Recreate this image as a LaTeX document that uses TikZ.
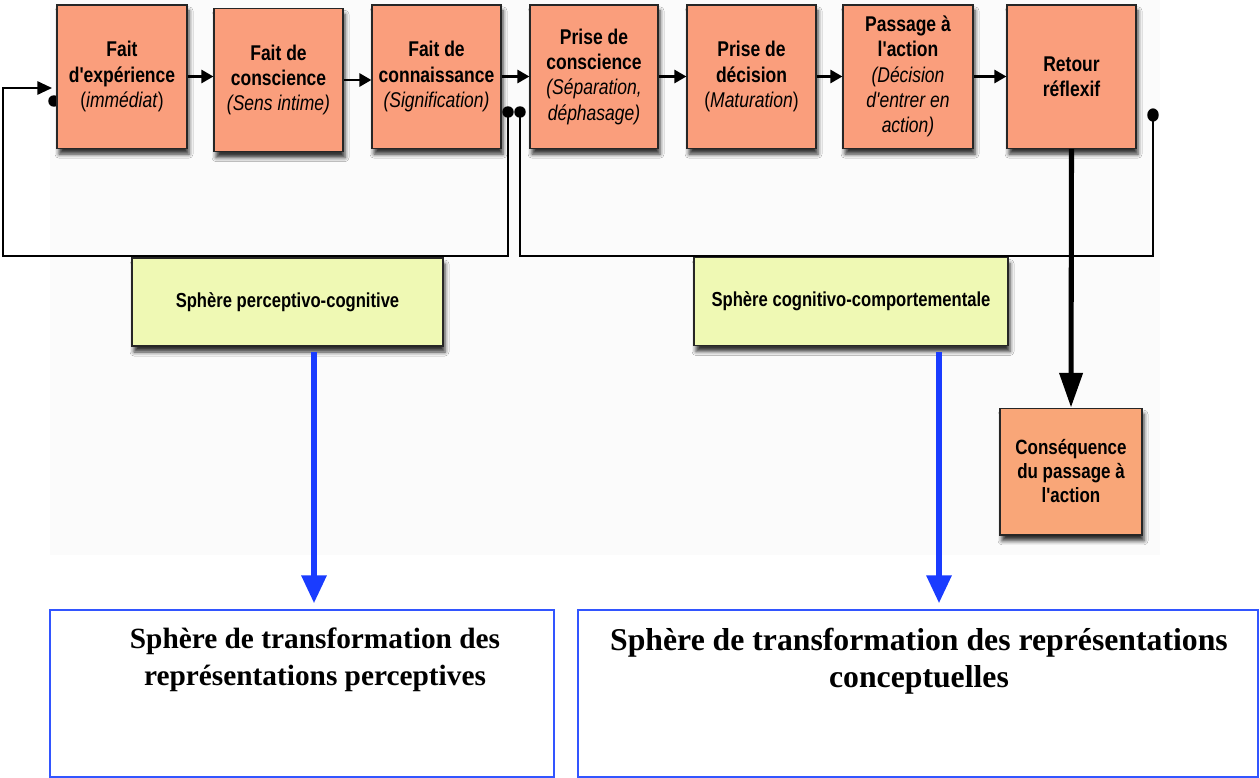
\documentclass[tikz,border=0pt]{standalone}
\usepackage{fontspec}
\setmainfont{Liberation Serif}
\newfontfamily\nar[FakeStretch=0.82]{Liberation Sans}
\usetikzlibrary{arrows.meta,shadows.blur,calc}
\definecolor{salmon}{RGB}{250,158,124}
\definecolor{consq}{RGB}{249,166,120}
\definecolor{paleyel}{RGB}{239,249,180}
\definecolor{arrblue}{RGB}{26,60,255}
\definecolor{boxblue}{RGB}{50,85,255}
\definecolor{bgray}{RGB}{251,251,251}
\newcommand\subt[1]{{\mdseries\itshape #1}}
\tikzset{
  shad/.style={blur shadow={shadow xshift=1.5pt,shadow yshift=-4.5pt,shadow blur radius=3pt,shadow opacity=80}},
  stepbox/.style={shad,draw=black!85,line width=1pt,fill=salmon,align=center,inner sep=0pt,
    minimum width=#1,minimum height=107.5pt,
    font={\nar\fontsize{16pt}{19pt}\selectfont\bfseries}},
  sphbox/.style={shad,draw=black!85,line width=1pt,fill=paleyel,align=center,inner sep=0pt,
    minimum height=66pt,font={\nar\fontsize{15.2pt}{18pt}\selectfont\bfseries}},
  bluebox/.style={draw=boxblue,line width=1.2pt,inner sep=0pt,minimum height=125pt},
  bigtxt/.style={align=center,inner sep=0pt},
  flow/.style={line width=1.6pt,-{Triangle[width=10pt,length=9pt]}},
  fb/.style={line width=1.4pt},
  dot/.style={fill=black},
  thick arrow/.style={line width=3.8pt,-{Triangle[width=17pt,length=26pt]}},
  blue arrow/.style={draw=arrblue,line width=4.5pt,-{Triangle[width=18pt,length=21pt]},arrblue},
}
\begin{document}
\begin{tikzpicture}[x=0.75pt,y=-0.75pt]
\useasboundingbox (0,0) rectangle (1260,778);
\fill[white] (0,0) rectangle (1260,778);
\fill[bgray] (50,0) rectangle (1160,555);

% half-hidden dot at the left of the first box
\coordinate (d0) at (54,101);
\fill[dot] (d0) circle (4.3pt);

% top row
\node[stepbox=97.5pt] (b1) at (122,76.5) {Fait\\d'expérience\\\subt{\upshape(\itshape immédiat\/\upshape)}};
\node[stepbox=96.75pt] (b2) at (278.5,80) {Fait de\\conscience\\\subt{(Sens intime)}};
\node[stepbox=96.75pt] (b3) at (436.5,76.5) {Fait de\\connaissance\\\subt{(Signification)}};
\node[stepbox=96pt] (b4) at (594,76.5) {Prise de\\conscience\\\subt{(Séparation,}\\\subt{déphasage)}};
\node[stepbox=96.75pt] (b5) at (751.5,76.5) {Prise de\\décision\\\subt{\upshape(\itshape Maturation\/\upshape)}};
\node[stepbox=97.5pt] (b6) at (908,76.5) {Passage à\\l'action\\\subt{(Décision}\\\subt{d'entrer en}\\\subt{action)}};
\node[stepbox=96.75pt] (b7) at (1071.5,76.5) {Retour\\réflexif};

\foreach \a/\b in {b1/b2,b2/b3,b3/b4,b4/b5,b5/b6,b6/b7}
  \draw[flow] (\a.east) -- (\a.east -| \b.west);

% spheres
\node[sphbox,minimum width=233.25pt] (s1) at (287.5,302) {Sphère perceptivo-cognitive};
\node[sphbox,minimum width=235.5pt] (s2) at (851,301.5) {Sphère cognitivo-comportementale};

% consequence
\node[stepbox=106.5pt,minimum height=95pt,fill=consq,font={\nar\fontsize{15.5pt}{18pt}\selectfont\bfseries}] (cq) at (1071,471.5) {Conséquence\\du passage à\\l'action};

% feedback loops
\coordinate (d1) at (508,112);
\coordinate (c1) at (3,256);
\coordinate (in1) at (52,88);
\draw[fb,-{Triangle[width=10pt,length=11pt]}] (d1) |- (c1) |- (in1);
\fill[dot] (d1) circle (4.3pt);

\coordinate (d2) at (520,112);
\coordinate (d3) at (1153,115);
\coordinate (c2) at (520,256);
\draw[fb] (d2) -- (c2) -| (d3);
\fill[dot] (d2) circle (4.3pt);
\fill[dot] (d3) ellipse (4.3pt and 5pt);

% thick arrow
\draw[thick arrow] (b7.south) -- (cq.north);

% bottom boxes
\node[bluebox,minimum width=378pt] (lb) at (302,693.5) {};
\node[bluebox,minimum width=510pt] (rb) at (918,693.5) {};
\node[bigtxt,font={\fontsize{22pt}{27.75pt}\selectfont\bfseries},anchor=north] (lt) at (315,628) {Sphère de transformation des\\représentations perceptives};
\node[bigtxt,font={\fontsize{23.8pt}{27.75pt}\selectfont\bfseries},anchor=north] (rt) at (919,628) {Sphère de transformation des représentations\\conceptuelles};

% blue arrows
\coordinate (a1) at (314,346);
\coordinate (a2) at (939,346);
\draw[blue arrow,shorten <=4.5pt,shorten >=4.5pt] (a1) -- (a1 |- lb.north);
\draw[blue arrow,shorten <=4.5pt,shorten >=4.5pt] (a2) -- (a2 |- rb.north);
\end{tikzpicture}
\end{document}
